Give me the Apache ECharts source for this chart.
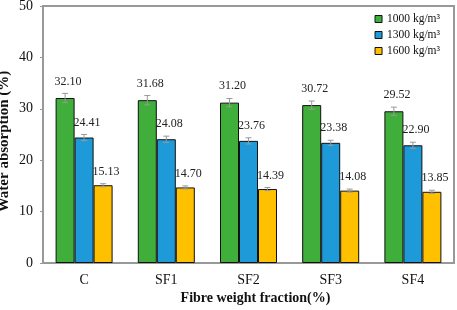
<!DOCTYPE html>
<html lang="en">
<head>
    <meta charset="UTF-8">
    <title>Water absorption</title>
    <style>body{margin:0;background:#fff;}</style>
</head>
<body>
<div id="main" style="width: 457px;height:310px;"></div>
<script src="https://cdn.jsdelivr.net/npm/echarts@6/dist/echarts.min.js"></script>
<script>
    var categories = ['C', 'SF1', 'SF2', 'SF3', 'SF4'];
    var seriesNames = ['1000 kg/m³', '1300 kg/m³', '1600 kg/m³'];
    var d1000 = [32.10, 31.68, 31.20, 30.72, 29.52];
    var d1300 = [24.41, 24.08, 23.76, 23.38, 22.90];
    var d1600 = [15.13, 14.70, 14.39, 14.08, 13.85];
    var e1000 = [0.9, 0.9, 0.8, 0.8, 0.8];
    var e1300 = [0.6, 0.6, 0.6, 0.5, 0.6];
    var e1600 = [0.3, 0.3, 0.3, 0.3, 0.3];
    var yTicks = [0, 10, 20, 30, 40, 50];

    var colors = ['#3fae3a', '#1f9ad9', '#ffc000'];
    var barW = 19;
    var serif = '"Liberation Serif", "DejaVu Serif", serif';

    var values = [d1000, d1300, d1600];
    var errors = [e1000, e1300, e1600];

    var myChart = echarts.init(document.getElementById('main'));

    var series = [];
    values.forEach(function (vals, k) {
        series.push({
            name: seriesNames[k],
            type: 'bar',
            data: vals,
            barWidth: barW,
            barGap: '0%',
            itemStyle: {color: colors[k], borderColor: '#111', borderWidth: 1},
            label: {
                show: true,
                position: 'top',
                distance: 6 + errors[k][0] * 5,
                offset: [3, 0],
                formatter: function (p) { return p.value.toFixed(2); },
                fontFamily: serif,
                fontSize: 12,
                color: '#222'
            }
        });
    });

    // error bars
    values.forEach(function (vals, k) {
        var data = vals.map(function (v, i) { return [i, v, errors[k][i]]; });
        series.push({
            type: 'custom',
            silent: true,
            z: 5,
            data: data,
            renderItem: function (params, api) {
                var i = api.value(0), v = api.value(1), e = api.value(2);
                var off = (k - 1) * barW;
                var hi = api.coord([i, v + e]);
                var lo = api.coord([i, v - e]);
                var x = hi[0] + off;
                var st = {stroke: '#999', lineWidth: 1};
                return {
                    type: 'group',
                    children: [
                        {type: 'line', shape: {x1: x, y1: hi[1], x2: x, y2: lo[1]}, style: st},
                        {type: 'line', shape: {x1: x - 3, y1: hi[1], x2: x + 3, y2: hi[1]}, style: st},
                        {type: 'line', shape: {x1: x - 3, y1: lo[1], x2: x + 3, y2: lo[1]}, style: st}
                    ]
                };
            }
        });
    });

    var option = {
        color: colors,
        animation: false,
        grid: {
            left: 43, right: 3, top: 6, bottom: 47,
            outerBoundsMode: 'none',
            show: true, borderColor: '#999', borderWidth: 2
        },
        legend: {
            data: seriesNames,
            orient: 'vertical',
            right: 12,
            top: 7,
            itemWidth: 7,
            itemHeight: 7,
            itemGap: 2,
            icon: 'rect',
            itemStyle: {borderColor: '#111', borderWidth: 1},
            textStyle: {fontFamily: serif, fontSize: 11.5, lineHeight: 14, color: '#111'}
        },
        xAxis: {
            type: 'category',
            data: categories,
            name: 'Fibre weight fraction(%)',
            nameLocation: 'middle',
            nameGap: 28,
            nameMoveOverlap: false,
            nameTextStyle: {fontFamily: serif, fontSize: 14, fontWeight: 'bold', color: '#111', padding: [0, 0, 0, 14]},
            axisLine: {lineStyle: {color: '#999', width: 2}},
            axisTick: {show: false},
            axisLabel: {fontFamily: serif, fontSize: 14, color: '#111', margin: 10}
        },
        yAxis: {
            type: 'value',
            min: 0,
            max: 50,
            interval: 10,
            name: 'Water absorption (%)',
            nameLocation: 'middle',
            nameGap: 31,
            nameMoveOverlap: false,
            nameTextStyle: {fontFamily: serif, fontSize: 15, fontWeight: 'bold', color: '#111', padding: [0, 14, 0, 0]},
            axisLine: {show: true, lineStyle: {color: '#999', width: 2}},
            axisTick: {show: true, length: 3, lineStyle: {color: '#999'}},
            splitLine: {show: false},
            axisLabel: {
                fontFamily: serif, fontSize: 14, color: '#111', margin: 10,
                formatter: function (v) { return yTicks.indexOf(v) >= 0 ? String(v) : ''; }
            }
        },
        series: series
    };

    myChart.setOption(option);
</script>
</body>
</html>
